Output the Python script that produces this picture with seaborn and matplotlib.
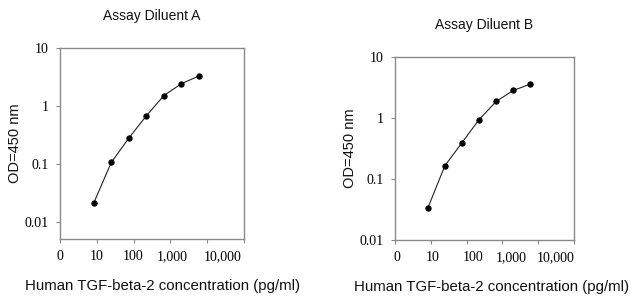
import numpy as np
import pandas as pd
import seaborn as sns
import matplotlib.pyplot as plt
import matplotlib.transforms as mtransforms
from matplotlib.ticker import FixedLocator, FixedFormatter, NullLocator

# standard curve data (3-fold dilution series)
conc = [8.2, 24.7, 74, 222, 667, 2000, 6000]
od_a = [0.0207, 0.105, 0.277, 0.672, 1.51, 2.42, 3.29]
od_b = [0.033, 0.164, 0.39, 0.93, 1.85, 2.80, 3.56]

titles = ["Assay Diluent A", "Assay Diluent B"]
xticks = [1, 10, 100, 1000, 10000, 100000]
xticklabels = ["0", "10", "100", "1,000", "10,000", ""]
yticks = [0.01, 0.1, 1, 10]
yticklabels = ["0.01", "0.1", "1", "10"]
ylims = [(0.005, 10), (0.01, 10)]

sns.set_style("ticks")
plt.rcParams['font.family'] = ['Liberation Sans', 'DejaVu Sans']

fig = plt.figure(figsize=(6.31, 2.99), dpi=100)
ax1 = fig.add_axes([60/631, 1-239/299, 184/631, 191/299])
ax2 = fig.add_axes([395/631, 1-240/299, 179/631, 183.3/299])

# label positions (axes coords) per panel
title_y = [1.168, 1.173]
xlab_pos = [((163-60)/184, -47/191), ((492-395)/179, -47/183.3)]
ylab_x = [-45/184, -45/179]
# the original x tick labels drift right of their ticks (pixels)
xlab_shift = [[0, 0, 0, 2, 15, 0], [2, 2, 7, 9, 17, 0]]

for i, (ax, od) in enumerate(zip([ax1, ax2], [od_a, od_b])):
    df = pd.DataFrame({'conc': conc, 'od': od})
    sns.lineplot(data=df, x='conc', y='od', ax=ax, color='#222222',
                 linewidth=0.8, marker='o', markersize=3.8,
                 markeredgecolor='black', markerfacecolor='black')
    ax.set_xscale('log')
    ax.set_yscale('log')
    ax.set_xlim(1, 100000)
    ax.set_ylim(*ylims[i])
    ax.xaxis.set_major_locator(FixedLocator(xticks))
    ax.xaxis.set_major_formatter(FixedFormatter(xticklabels))
    ax.xaxis.set_minor_locator(NullLocator())
    ax.yaxis.set_major_locator(FixedLocator(yticks))
    ax.yaxis.set_major_formatter(FixedFormatter(yticklabels))
    ax.yaxis.set_minor_locator(NullLocator())
    for sp in ax.spines.values():
        sp.set_color('#8a8a8a')
        sp.set_linewidth(1.0)
    ax.tick_params(axis='both', length=3, width=0.8, color='#8a8a8a',
                   labelsize=10, labelcolor='black')
    ax.tick_params(axis='x', pad=5)
    ax.tick_params(axis='y', pad=5)
    for lab in ax.get_xticklabels() + ax.get_yticklabels():
        lab.set_family(['Liberation Serif', 'DejaVu Serif'])
    for tick, dx in zip(ax.xaxis.get_major_ticks(), xlab_shift[i]):
        off = mtransforms.ScaledTranslation(dx/100, 0, fig.dpi_scale_trans)
        tick.label1.set_transform(tick.label1.get_transform() + off)

    ax.set_title(titles[i], fontsize=10, y=title_y[i], va='center', pad=0,
                 color='#111111')
    ax.set_xlabel('Human TGF-beta-2 concentration (pg/ml)', fontsize=10.8,
                  color='#111111')
    ax.xaxis.set_label_coords(*xlab_pos[i])
    ax.xaxis.label.set_va('center')
    ax.set_ylabel('OD=450 nm', fontsize=10.5, color='#111111')
    ax.yaxis.set_label_coords(ylab_x[i], 0.5)
    ax.yaxis.label.set_va('center')

fig.savefig('out.png', dpi=100)
